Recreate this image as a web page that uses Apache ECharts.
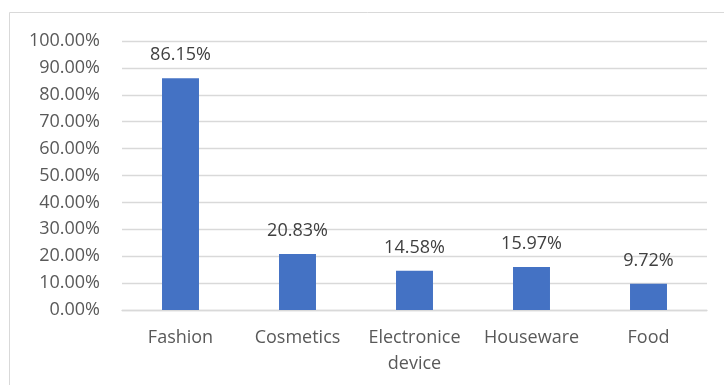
<!DOCTYPE html>
<html>
<head>
<meta charset="utf-8">
<style>
  html, body { margin: 0; padding: 0; background: #ffffff; }
  #chart { width: 724px; height: 385px; }
</style>
<script src="https://cdn.jsdelivr.net/npm/echarts@6/dist/echarts.min.js"></script>
</head>
<body>
<div id="chart"></div>
<script>
// Share of purchases by product category (percent)
const categories = ['Fashion', 'Cosmetics', 'Electronice\ndevice', 'Houseware', 'Food'];
const shares = [86.15, 20.83, 14.58, 15.97, 9.72];
const yTicks = { min: 0, max: 100, step: 10 };

const chart = echarts.init(document.getElementById('chart'), null, { renderer: 'canvas' });

const textColor = '#595959';
const lineColor = '#d9d9d9';
const fontFamily = '"Open Sans", "Liberation Sans", Arial, sans-serif';

chart.setOption({
  animation: false,
  backgroundColor: '#ffffff',
  graphic: [{
    type: 'rect',
    shape: { x: 9.5, y: 12.5, width: 760, height: 420 },
    style: { fill: 'none', stroke: lineColor, lineWidth: 1 },
    silent: true
  }],
  grid: { left: 122, right: 17, top: 41, bottom: 75, containLabel: false },
  xAxis: {
    type: 'category',
    data: categories,
    axisLine: { show: true, lineStyle: { color: lineColor, width: 1.3 } },
    axisTick: { show: false },
    axisLabel: {
      color: textColor, fontFamily, fontSize: 18, lineHeight: 26, margin: 15,
      interval: 0
    }
  },
  yAxis: {
    type: 'value',
    min: yTicks.min,
    max: yTicks.max,
    interval: yTicks.step,
    axisLine: { show: false },
    axisTick: { show: false },
    splitLine: { show: true, lineStyle: { color: lineColor, width: 1.3 } },
    axisLabel: {
      color: textColor, fontFamily, fontSize: 18, margin: 22,
      formatter: v => v.toFixed(2) + '%'
    }
  },
  series: [{
    type: 'bar',
    data: shares,
    barWidth: '31.6%',
    itemStyle: { color: '#4472C4' },
    label: {
      show: true,
      position: 'top',
      distance: 14,
      color: '#404040',
      fontFamily,
      fontSize: 18,
      formatter: p => p.value.toFixed(2) + '%'
    }
  }]
});
</script>
</body>
</html>
